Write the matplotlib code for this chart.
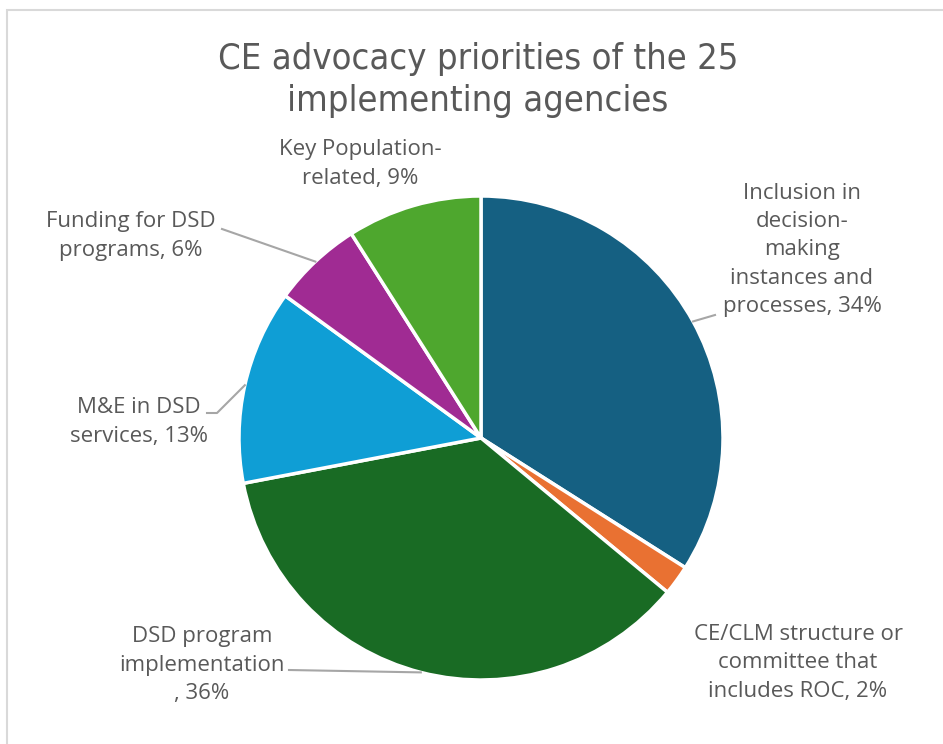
import numpy as np
import matplotlib.pyplot as plt
from matplotlib.patches import Rectangle

# -------------------------
# Data
# -------------------------

categories = [
    "Inclusion in decision-making instances and processes",
    "CE/CLM structure or committee that includes ROC",
    "DSD program implementation",
    "M&E in DSD services",
    "Funding for DSD programs",
    "Key Population-related",
]
shares = [34, 2, 36, 13, 6, 9]
label_names = [
    "Inclusion in\ndecision-\nmaking\ninstances and\nprocesses",
    "CE/CLM structure or\ncommittee that\nincludes ROC",
    "DSD program\nimplementation\n",
    "M&E in DSD\nservices",
    "Funding for DSD\nprograms",
    "Key Population-\nrelated",
]
colors = ["#156082", "#E97132", "#196B24", "#0F9ED5", "#A02B93", "#4EA72E"]

title = "CE advocacy priorities of the 25\nimplementing agencies"

# -------------------------
# Layout (image pixel coords, y measured from top)
# -------------------------

W, H = 943, 744
cx, cy, r = 481, 438, 242

def Y(y):
    return H - y

# label centre positions
label_pos = [(802, 250), (798, 663), (202, 665), (139, 422), (131, 236), (360, 164)]
# leader line start points (None = no leader line)
leader_start = [
    [(715, 315)],
    None,
    [(289, 670)],
    [(207, 413), (217, 413)],
    [(222, 229)],
    None,
]

text_color = "#595959"
label_font = ["Open Sans", "DejaVu Sans"]

fig = plt.figure(figsize=(W / 100, H / 100), dpi=100)
ax = fig.add_axes([0, 0, 1, 1])

wedges, _ = ax.pie(
    shares,
    colors=colors,
    startangle=90,
    counterclock=False,
    center=(cx, Y(cy)),
    radius=r,
    wedgeprops=dict(edgecolor="white", linewidth=2.5),
)

ax.set_xlim(0, W)
ax.set_ylim(0, H)
ax.set_aspect("equal")
ax.axis("off")

# chart frame
ax.add_patch(Rectangle((7, -20), W + 20, Y(10) + 20, fill=False,
                       edgecolor="#D9D9D9", linewidth=1.5, zorder=0))

ax.text(478, Y(80), title, ha="center", va="center", fontsize=26,
        color=text_color, family="DejaVu Sans", fontstretch="condensed",
        linespacing=1.3)

for w, name, v, pos, lead in zip(wedges, label_names, shares, label_pos, leader_start):
    txt = f"{name}, {v}%"
    ax.text(pos[0], Y(pos[1]), txt, ha="center", va="center", fontsize=16,
            color=text_color, family=label_font, linespacing=1.45)
    if lead is not None:
        mid = np.deg2rad((w.theta1 + w.theta2) / 2)
        ex = w.center[0] + w.r * np.cos(mid)
        ey = w.center[1] + w.r * np.sin(mid)
        xs = [p[0] for p in lead] + [ex]
        ys = [Y(p[1]) for p in lead] + [ey]
        ax.plot(xs, ys, color="#A6A6A6", linewidth=1.5, zorder=3)

plt.savefig("out.png", dpi=100)
